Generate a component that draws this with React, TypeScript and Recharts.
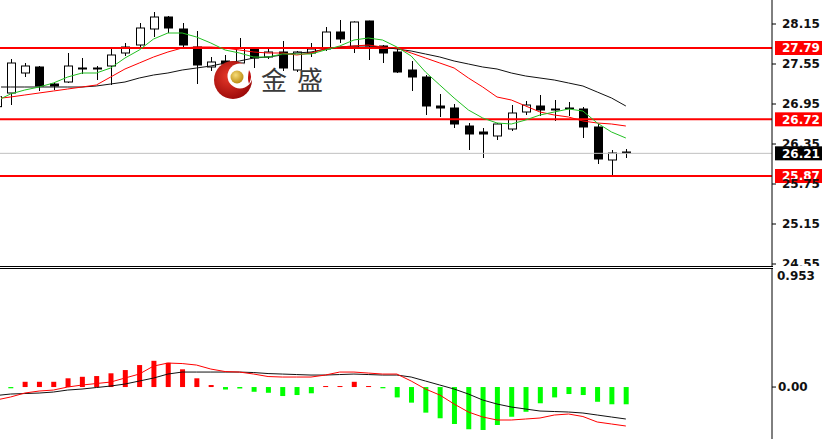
import React from "react";
import { ComposedChart, Bar, Line, XAxis, YAxis, ReferenceLine, Cell } from "recharts";

// candles, left to right (the first one is cut by the left edge)
const open = [26.91, 27.115, 27.415, 27.505, 27.25, 27.28, 27.49, 27.475, 27.52, 27.715, 27.835, 28.075, 28.255, 28.075, 27.805, 27.505, 27.595, 27.565, 27.775, 27.655, 27.73, 27.46, 27.715, 27.775, 28.03, 27.805, 28.195, 27.82, 27.73, 27.46, 27.355, 26.92, 26.89, 26.62, 26.53, 26.47, 26.575, 26.83, 26.92, 26.875, 26.89, 26.875, 26.605, 26.11, 26.23];
const high = [27.1, 27.625, 27.565, 27.52, 27.265, 27.715, 27.64, 27.52, 27.805, 27.865, 28.165, 28.33, 28.27, 28.165, 28.045, 27.655, 27.685, 27.94, 27.805, 27.79, 27.895, 27.745, 27.865, 28.105, 28.21, 28.19, 28.2, 27.835, 27.79, 27.595, 27.385, 27.1, 26.95, 26.665, 26.59, 26.665, 26.935, 26.995, 27.085, 27.01, 26.98, 26.905, 26.65, 26.26, 26.275];
const low = [26.88, 26.935, 27.355, 27.145, 27.16, 27.265, 27.4, 27.31, 27.235, 27.67, 27.775, 27.955, 28.015, 27.79, 27.25, 27.445, 27.49, 27.535, 27.49, 27.625, 27.445, 27.43, 27.655, 27.745, 27.865, 27.715, 27.61, 27.565, 27.415, 27.145, 26.785, 26.755, 26.59, 26.26, 26.14, 26.41, 26.545, 26.785, 26.77, 26.695, 26.77, 26.44, 26.05, 25.87, 26.14];
const close = [27.06, 27.565, 27.52, 27.22, 27.22, 27.52, 27.475, 27.49, 27.685, 27.805, 28.09, 28.255, 28.09, 27.835, 27.535, 27.58, 27.55, 27.79, 27.64, 27.73, 27.49, 27.73, 27.775, 28.03, 27.925, 28.18, 27.82, 27.715, 27.43, 27.355, 26.92, 26.89, 26.65, 26.5, 26.5, 26.65, 26.815, 26.935, 26.86, 26.86, 26.88, 26.605, 26.125, 26.215, 26.215];

// moving averages
const maFast = [26.995, 27.1, 27.16, 27.205, 27.265, 27.355, 27.415, 27.415, 27.49, 27.64, 27.76, 27.925, 28.015, 28.015, 27.955, 27.865, 27.76, 27.715, 27.655, 27.655, 27.7, 27.7, 27.7, 27.76, 27.82, 27.91, 27.94, 27.91, 27.805, 27.67, 27.43, 27.235, 27.04, 26.86, 26.74, 26.665, 26.65, 26.71, 26.785, 26.83, 26.875, 26.845, 26.665, 26.53, 26.44];
const maMid = [27.03, 27.055, 27.085, 27.115, 27.145, 27.175, 27.205, 27.235, 27.355, 27.475, 27.565, 27.655, 27.73, 27.79, 27.805, 27.805, 27.79, 27.76, 27.73, 27.715, 27.715, 27.685, 27.715, 27.775, 27.805, 27.82, 27.835, 27.805, 27.79, 27.715, 27.64, 27.565, 27.49, 27.34, 27.205, 27.055, 27.01, 26.92, 26.83, 26.785, 26.755, 26.695, 26.665, 26.65, 26.62];
const maSlow = [27.205, 27.205, 27.205, 27.205, 27.205, 27.205, 27.205, 27.22, 27.25, 27.28, 27.34, 27.385, 27.415, 27.46, 27.49, 27.52, 27.565, 27.595, 27.64, 27.655, 27.685, 27.715, 27.73, 27.775, 27.805, 27.82, 27.82, 27.805, 27.775, 27.745, 27.7, 27.655, 27.595, 27.55, 27.505, 27.475, 27.415, 27.37, 27.34, 27.31, 27.265, 27.22, 27.13, 27.04, 26.92];

// MACD pane
const hist = [null, -0.01, 0.042, 0.042, 0.042, 0.07, 0.082, 0.088, 0.11, 0.136, 0.176, 0.21, 0.194, 0.142, 0.07, 0.016, -0.02, -0.012, -0.038, -0.046, -0.072, -0.064, -0.05, 0.008, 0.008, 0.042, 0.008, -0.01, -0.083, -0.125, -0.205, -0.25, -0.296, -0.338, -0.344, -0.304, -0.238, -0.198, -0.13, -0.083, -0.056, -0.064, -0.118, -0.138, -0.138];
const macd = [-0.068, -0.056, -0.052, -0.048, -0.04, -0.024, -0.016, -0.004, 0.008, 0.024, 0.048, 0.072, 0.104, 0.12, 0.12, 0.12, 0.12, 0.12, 0.116, 0.108, 0.104, 0.1, 0.096, 0.096, 0.1, 0.104, 0.1, 0.096, 0.096, 0.08, 0.048, 0.016, -0.016, -0.056, -0.104, -0.136, -0.16, -0.176, -0.192, -0.196, -0.2, -0.208, -0.224, -0.24, -0.256];
const signal = [-0.104, -0.08, -0.048, -0.032, -0.024, 0, 0.016, 0.028, 0.04, 0.072, 0.104, 0.168, 0.192, 0.188, 0.176, 0.144, 0.124, 0.12, 0.104, 0.084, 0.08, 0.08, 0.08, 0.096, 0.12, 0.12, 0.112, 0.104, 0.104, 0.048, -0.016, -0.064, -0.136, -0.2, -0.24, -0.264, -0.264, -0.256, -0.248, -0.224, -0.216, -0.236, -0.28, -0.296, -0.312];

const priceTicks = [28.15, 27.55, 26.95, 26.35, 25.75, 25.15, 24.55];
const macdTicks = [0.953, 0];
const levels = [27.79, 26.72, 25.87];
const lastPrice = 26.21;

const rows = open.map((o, i) => ({
  i,
  o,
  h: high[i],
  l: low[i],
  c: close[i],
  fast: maFast[i],
  mid: maMid[i],
  slow: maSlow[i],
  hist: hist[i],
  macd: macd[i],
  signal: signal[i],
}));

const axisFont = "DejaVu Sans, Verdana, sans-serif";

function Candle(props: any) {
  const { x, y, width, height, payload } = props;
  if (!payload) return null;
  const { o, h, l, c } = payload;
  const top0 = height < 0 ? y + height : y;
  const hgt = Math.abs(height);
  const k = hgt / (h - l);
  const py = (v: number) => top0 + (h - v) * k;
  const cx = Math.round(x + width / 2) + 0.5;
  const bTop = py(Math.max(o, c));
  const bBot = py(Math.min(o, c));
  const bull = c >= o;
  return (
    <g>
      <line x1={cx} x2={cx} y1={py(h)} y2={py(l)} stroke="#000" strokeWidth={1} />
      <rect x={cx - 4} y={bTop} width={8} height={Math.max(bBot - bTop, 0.5)} fill={bull ? "#fff" : "#000"} stroke="#000" strokeWidth={1} />
    </g>
  );
}

function PriceTick(props: any) {
  const { x, y, payload } = props;
  return (
    <g>
      <line x1={x - 10} x2={x - 6} y1={y} y2={y} stroke="#000" />
      <text x={x} y={y} dy="0.36em" fill="#111" fontSize={12} fontWeight="bold" fontFamily={axisFont}>
        {payload.value.toFixed(2)}
      </text>
    </g>
  );
}

function MacdTick(props: any) {
  const { x, y, payload } = props;
  const isTop = payload.value > 0.5;
  return (
    <g>
      {!isTop && <line x1={x - 10} x2={x - 6} y1={y} y2={y} stroke="#000" />}
      <text x={isTop ? x - 5 : x - 4} y={isTop ? y + 8 : y} dy="0.36em" fill="#111" fontSize={12} fontWeight="bold" fontFamily={axisFont}>
        {isTop ? payload.value.toFixed(3) : payload.value.toFixed(2)}
      </text>
    </g>
  );
}

function Tag(props: any) {
  const { viewBox, text, bg } = props;
  if (!viewBox) return null;
  const x = viewBox.x + viewBox.width;
  const y = viewBox.y;
  return (
    <g>
      <rect x={x + 3} y={y - 7} width={50} height={14} fill={bg} />
      <text x={x + 10} y={y} dy="0.36em" fill="#fff" fontSize={12} fontWeight="bold" fontFamily={axisFont}>
        {text}
      </text>
    </g>
  );
}

function Logo() {
  return (
    <svg width={822} height={266} style={{ position: "absolute", left: 0, top: 0, pointerEvents: "none" }}>
      <defs>
        <radialGradient id="lgRed" cx="40%" cy="40%" r="65%">
          <stop offset="0%" stopColor="#e83a2a" />
          <stop offset="100%" stopColor="#9a0808" />
        </radialGradient>
        <radialGradient id="lgGold" cx="40%" cy="35%" r="70%">
          <stop offset="0%" stopColor="#f6dc78" />
          <stop offset="100%" stopColor="#b8860b" />
        </radialGradient>
      </defs>
      <circle cx={233} cy={80} r={19} fill="url(#lgRed)" />
      <circle cx={240} cy={76} r={12.5} fill="#fff" />
      <path d="M 249 70 Q 253 76 249 84 Q 247 79 249 70 Z" fill="#c01010" />
      <circle cx={237} cy={77} r={6.5} fill="url(#lgGold)" />
      <text x={261} y={90} fontSize={26} fill="#3a3a3a" fontFamily="Noto Sans CJK SC, sans-serif">金</text>
      <text x={297} y={90} fontSize={26} fill="#3a3a3a" fontFamily="Noto Sans CJK SC, sans-serif">盛</text>
    </svg>
  );
}

const xPad = { left: 3, right: 139 };

export default function App() {
  return (
    <div style={{ position: "absolute", left: 0, top: 0, width: 822, height: 439, background: "#fff", overflow: "hidden" }}>
      <div style={{ position: "absolute", left: -14, top: 0 }}>
        <ComposedChart width={836} height={266} data={rows} margin={{ top: 0, right: 0, bottom: 0, left: 0 }} style={{ overflow: "visible" }}>
          <XAxis dataKey="i" hide padding={xPad} />
          <YAxis
            orientation="right"
            width={50}
            domain={[24.52, 28.51]}
            ticks={priceTicks}
            allowDataOverflow
            axisLine={{ stroke: "#000" }}
            tickLine={false}
            tickSize={4}
            tickMargin={6}
            tick={<PriceTick />}
            interval={0}
          />
          <ReferenceLine y={lastPrice} stroke="#c0c0c0" strokeWidth={1} label={<Tag text={lastPrice.toFixed(2)} bg="#000" />} />
          {levels.map((v) => (
            <ReferenceLine key={v} y={v} stroke="#ff0000" strokeWidth={2} label={<Tag text={v.toFixed(2)} bg="#ff0000" />} />
          ))}
          <Bar dataKey={(d: any) => [d.l, d.h]} shape={<Candle />} barSize={9} isAnimationActive={false} />
          <Line dataKey="slow" type="linear" stroke="#111" strokeWidth={1} dot={false} isAnimationActive={false} />
          <Line dataKey="mid" type="linear" stroke="#ff0000" strokeWidth={1} dot={false} isAnimationActive={false} />
          <Line dataKey="fast" type="linear" stroke="#22c022" strokeWidth={1} dot={false} isAnimationActive={false} />
        </ComposedChart>
      </div>
      <Logo />
      <div style={{ position: "absolute", left: 0, top: 266, width: 773, height: 0, borderTop: "1px solid #000" }} />
      <div style={{ position: "absolute", left: 0, top: 268, width: 773, height: 0, borderTop: "1px solid #000" }} />
      <div style={{ position: "absolute", left: -14, top: 268 }}>
        <ComposedChart width={836} height={171} data={rows} margin={{ top: 0, right: 0, bottom: 0, left: 0 }}>
          <XAxis dataKey="i" hide padding={xPad} />
          <YAxis
            orientation="right"
            width={50}
            domain={[-0.416, 0.953]}
            ticks={macdTicks}
            allowDataOverflow
            axisLine={{ stroke: "#000" }}
            tickLine={false}
            tickSize={4}
            tickMargin={6}
            tick={<MacdTick />}
            interval={0}
          />
          <Bar dataKey="hist" barSize={5} isAnimationActive={false}>
            {rows.map((r) => (
              <Cell key={r.i} fill={(r.hist ?? 0) >= 0 ? "#ff0000" : "#00ff00"} />
            ))}
          </Bar>
          <Line dataKey="macd" type="linear" stroke="#111" strokeWidth={1} dot={false} isAnimationActive={false} />
          <Line dataKey="signal" type="linear" stroke="#ff0000" strokeWidth={1} dot={false} isAnimationActive={false} />
        </ComposedChart>
      </div>
    </div>
  );
}
